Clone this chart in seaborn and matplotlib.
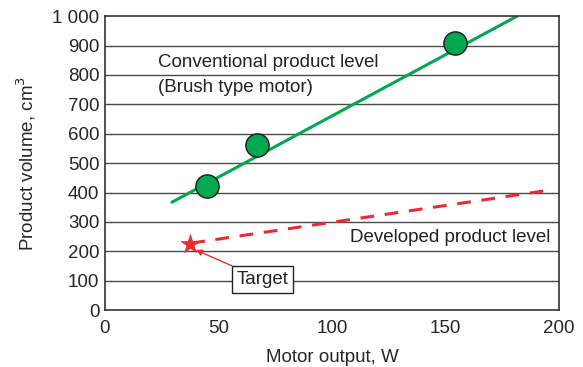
import numpy as np
import pandas as pd
import matplotlib.pyplot as plt
import seaborn as sns

# %% Data
conv_output = [45, 67, 154]          # W
conv_volume = [423, 563, 908]        # cm3
conv_line_x = [29.5, 181.5]
conv_line_y = [367, 1000]
dev_line_x = [38, 193]
dev_line_y = [228, 405]
target_x = [37.5]
target_y = [226]
x_ticks = [0, 50, 100, 150, 200]
y_ticks = [0, 100, 200, 300, 400, 500, 600, 700, 800, 900, 1000]
y_ticklabels = ['0', '100', '200', '300', '400', '500', '600', '700', '800', '900', '1 000']

green = '#00a84f'
red = '#ee2a2f'
fs = 13.5

# %% Style
sns.set_style("white")
plt.rcParams['font.family'] = ['Liberation Sans', 'DejaVu Sans']

fig = plt.figure(figsize=(5.83, 3.67), dpi=100)
ax = fig.add_axes([0.180, 0.155, 0.779, 0.801])

for y in y_ticks[1:-1]:
    ax.axhline(y, color='#4a4a4a', lw=1.0, zorder=0)

df_conv = pd.DataFrame({'x': conv_output, 'y': conv_volume})
sns.lineplot(x=conv_line_x, y=conv_line_y, color=green, lw=2.2, ax=ax, zorder=2)
sns.lineplot(x=dev_line_x, y=dev_line_y, color=red, lw=2.2, ax=ax,
             linestyle=(0, (4.5, 3.5)), zorder=2)
sns.scatterplot(data=df_conv, x='x', y='y', s=280, color=green,
                edgecolor='#1a1a1a', linewidth=1.0, ax=ax, zorder=3)
sns.scatterplot(x=target_x, y=target_y, marker='*', s=200, color=red,
                edgecolor=red, linewidth=0.5, ax=ax, zorder=4)

# Annotations
ax.text(23.3, 843, 'Conventional product level', fontsize=fs,
        va='center', ha='left', color='#222222')
ax.text(23.3, 758, '(Brush type motor)', fontsize=fs,
        va='center', ha='left', color='#222222')
ax.text(196, 247, 'Developed product level', fontsize=fs,
        va='center', ha='right', color='#222222',
        bbox=dict(facecolor='white', edgecolor='none', pad=0.5))
ax.annotate('Target', xy=(40, 205), xytext=(69.5, 104), fontsize=fs,
            va='center', ha='center', color='#222222',
            bbox=dict(boxstyle='square,pad=0.25', facecolor='white',
                      edgecolor='#222222', lw=1.0),
            arrowprops=dict(arrowstyle='-|>', color=red, lw=1.0,
                            mutation_scale=9, shrinkA=0, shrinkB=0))

# Axes
ax.set_xlim(0, 200)
ax.set_ylim(0, 1000)
ax.set_xticks(x_ticks)
ax.set_yticks(y_ticks)
ax.set_yticklabels(y_ticklabels)
ax.tick_params(axis='x', direction='in', length=5, width=1.0, color='#333333',
               labelsize=fs, pad=7)
ax.tick_params(axis='y', length=0, labelsize=fs, pad=4)
ax.set_xlabel('Motor output, W', fontsize=fs, labelpad=9)
ax.set_ylabel('Product volume, cm$^3$', fontsize=fs, labelpad=10)
for s in ax.spines.values():
    s.set_color('#333333')
    s.set_linewidth(1.2)

fig.savefig('out.png', dpi=100)
